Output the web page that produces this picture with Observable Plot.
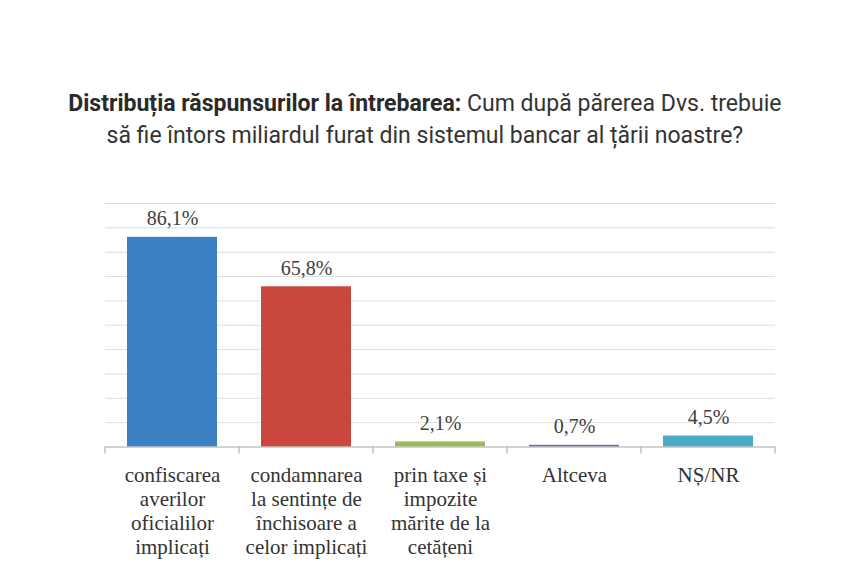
<!DOCTYPE html>
<html><head><meta charset="utf-8">
<script src="https://cdn.jsdelivr.net/npm/d3@7"></script>
<script src="https://cdn.jsdelivr.net/npm/@observablehq/plot@0.6"></script>
<style>
body{margin:0;background:#fff;width:850px;height:586px;overflow:hidden}
#title{height:190px;box-sizing:border-box;padding-top:87px;text-align:center;font-family:Roboto,sans-serif;font-size:23.5px;color:#333;line-height:32px}
#title .l{display:inline-block;transform:scaleX(0.98);white-space:nowrap}
#title b{font-weight:700;color:#2a2a2a}
</style></head><body>
<div id="title"><span class="l"><b>Distribuția răspunsurilor la întrebarea:</b> Cum după părerea Dvs. trebuie</span><br><span class="l">să fie întors miliardul furat din sistemul bancar al țării noastre?</span></div>
<div id="chart"></div>
<script>
const categories = [
  "confiscarea\naverilor\noficialilor\nimplicați",
  "condamnarea\nla sentințe de\nînchisoare a\ncelor implicați",
  "prin taxe și\nimpozite\nmărite de la\ncetățeni",
  "Altceva",
  "NȘ/NR"
];
const values = [86.1, 65.8, 2.1, 0.7, 4.5];
const valueLabels = ["86,1%", "65,8%", "2,1%", "0,7%", "4,5%"];
const colors = ["#3c80c4", "#c9473f", "#9bbb59", "#7f66a0", "#4aacc6"];
const gridTicks = [10, 20, 30, 40, 50, 60, 70, 80, 90, 100];

const data = categories.map((c, i) => ({cat: c, value: values[i], label: valueLabels[i], color: colors[i]}));

const boundaryTicks = (index, scales, values, dims) => {
  const g = d3.create("svg:g");
  const x0 = dims.marginLeft, x1 = dims.width - dims.marginRight;
  const n = categories.length;
  const y0 = scales.y(0);
  for (let k = 0; k <= n; k++) {
    const xx = x0 + k * (x1 - x0) / n;
    g.append("line").attr("x1", xx).attr("x2", xx).attr("y1", y0).attr("y2", y0 + 7)
      .attr("stroke", "#a6a6a6").attr("stroke-width", 1);
  }
  return g.node();
};

const chart = Plot.plot({
  width: 850,
  height: 396,
  marginLeft: 105,
  marginRight: 75,
  marginTop: 13,
  marginBottom: 139.5,
  x: {domain: categories, paddingInner: 0.328, paddingOuter: 0.164, label: null, axis: null},
  y: {domain: [0, 100], label: null, axis: null},
  style: {background: "#fff"},
  marks: [
    Plot.gridY(gridTicks, {stroke: "#dedede", strokeOpacity: 1}),
    Plot.barY(data, {x: "cat", y: "value", fill: "color"}),
    Plot.ruleY([0], {stroke: "#a6a6a6"}),
    boundaryTicks,
    Plot.text(data, {x: "cat", y: 0, text: "cat", lineAnchor: "top", dy: 17.5, fontSize: 21, fontFamily: "Liberation Serif", fontWeight: 400, lineHeight: 1.143, fill: "#333"}),
    Plot.text(data, {x: "cat", y: "value", text: "label", dy: -18.5, fontSize: 20, fontFamily: "Liberation Serif", fill: "#404040"})
  ]
});
document.getElementById("chart").append(chart);
</script>
</body></html>
